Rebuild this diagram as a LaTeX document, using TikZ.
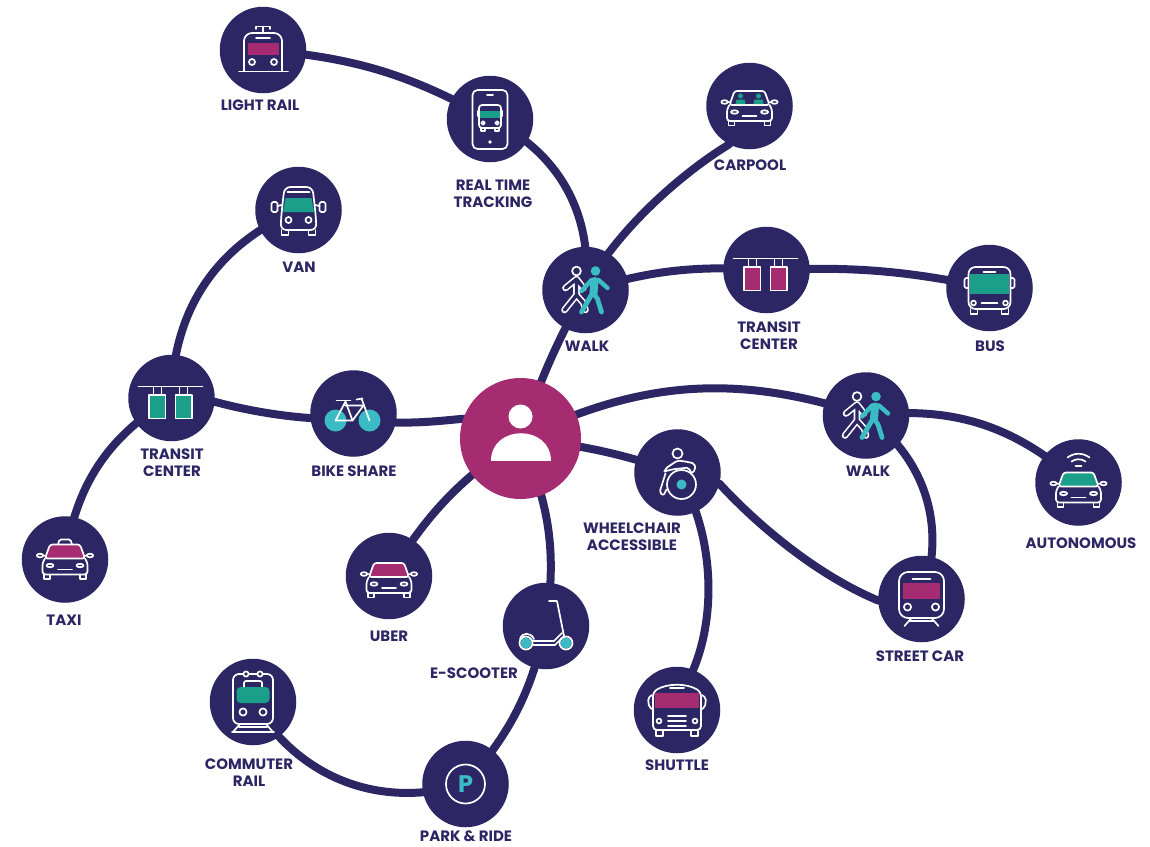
\documentclass[tikz,border=0pt]{standalone}
\usepackage{fontspec}
\setmainfont{Poppins}
\usetikzlibrary{backgrounds}
\definecolor{navy}{HTML}{2C2764}
\definecolor{mag}{HTML}{A62C72}
\definecolor{grn}{HTML}{1B9F8B}
\definecolor{cyn}{HTML}{3BBCC4}
\tikzset{
  hub/.style={circle,fill=navy,minimum size=86.5pt,inner sep=0pt},
  user/.style={circle,fill=mag,minimum size=121pt,inner sep=0pt},
  lab/.style={text=navy,font=\bfseries\fontsize{15}{17}\selectfont,align=center,inner sep=0pt},
  link/.style={draw=navy,line width=8pt,line join=round},
  ln/.style={draw=white,line width=1.7pt,line join=round,line cap=round},
  pics/car/.style={code={
    \draw[ln] (-21,14)--(-21,19.5)--(-15,19.5)--(-15,15);
    \draw[ln] (21,14)--(21,19.5)--(15,19.5)--(15,15);
    \draw[ln] (-25,-4) ellipse[x radius=3.2,y radius=1.8];
    \draw[ln] (25,-4) ellipse[x radius=3.2,y radius=1.8];
    \draw[ln] (-21.8,-4)--(-18,-3.5) (21.8,-4)--(18,-3.5);
    \draw[ln,fill=#1,rounded corners=2.5pt] (-20,-1)--(-15,-15)--(15,-15)--(20,-1)--cycle;
    \draw[ln,rounded corners=3pt] (-20,-1)--(-22.5,3)--(-22.5,15)--(22.5,15)--(22.5,3)--(20,-1);
    \draw[ln] (-15,6) ellipse[x radius=3.6,y radius=1.7];
    \draw[ln] (15,6) ellipse[x radius=3.6,y radius=1.7];
    \draw[ln] (-7,10)--(7,10);
  }},
  pics/transit/.style={code={
    \draw[ln] (-33,-11.5)--(31,-11.5);
    \draw[ln] (-18,-11)--(-18,-3) (-10,-11)--(-10,-3) (8,-11)--(8,-3) (16,-11)--(16,-3);
    \draw[ln,fill=#1] (-22.5,-3) rectangle (-6,20.5);
    \draw[ln,fill=#1] (4,-3) rectangle (20.5,20.5);
  }},
  pics/walkers/.style={code={
    \draw[ln] (-9,-19) circle[radius=4.4];
    \draw[white,line width=6.6pt,line cap=round,line join=round]
      (-20,-2)--(-9,-11)--(-2,-2) (-9,-11)--(-9,5)--(-21,20) (-9,5)--(-2,13)--(0,20);
    \draw[navy,line width=3.4pt,line cap=round,line join=round]
      (-20,-2)--(-9,-11)--(-2,-2) (-9,-11)--(-9,5)--(-21,20) (-9,5)--(-2,13)--(0,20);
    \fill[cyn] (10,-19) circle[radius=4.8];
    \draw[cyn,line width=4.4pt,line cap=round,line join=round]
      (-4,1)--(6,-10)--(13,-10)--(22,-2);
    \draw[cyn,line width=8pt,line cap=round] (9,-9)--(8,3);
    \draw[cyn,line width=4.8pt,line cap=round,line join=round]
      (7,3)--(-4,22) (8,3)--(12,9)--(16,22);
  }}
}
\begin{document}
\begin{tikzpicture}[x=1pt,y=-1pt]
\useasboundingbox (0,0) rectangle (1150,846);
% hubs
\node[hub]  (light)   at (263,50)  {};
\node[hub]  (track)   at (490,119) {};
\node[hub]  (carpool) at (749.5,106) {};
\node[hub]  (walka)   at (585.5,290) {};
\node[hub]  (transa)  at (766.5,270) {};
\node[hub]  (bus)     at (989.5,288) {};
\node[hub]  (van)     at (298.5,210) {};
\node[hub]  (transb)  at (171.5,398) {};
\node[hub]  (bike)    at (353.5,413.5) {};
\node[hub]  (taxi)    at (65,559.5) {};
\node[hub]  (uber)    at (389,576) {};
\node[user] (person)  at (520.5,438.5) {};
\node[hub]  (walkb)   at (866,415.5) {};
\node[hub]  (wheel)   at (677.5,472.5) {};
\node[hub]  (auto)    at (1078.5,482.5) {};
\node[hub]  (street)  at (921.5,599) {};
\node[hub]  (scoot)   at (546,626) {};
\node[hub]  (commute) at (253,702) {};
\node[hub]  (park)    at (465.5,784) {};
\node[hub]  (shuttle) at (677,710) {};
% connectors
\begin{pgfonlayer}{background}
\draw[link] (light.center)  to[bend left=12]  (track.center);
\draw[link] (track.center)  to[bend left=35]  (walka.center);
\draw[link] (carpool.center) -- (carpool.-118) .. controls (695,165) and (645,205) .. (walka.58) -- (walka.center);
\draw[link] (walka.center)  to[bend left=10]  (transa.center);
\draw[link] (transa.center) to[bend left=7]   (bus.center);
\draw[link] (walka.center)  to[bend right=5]  (person.center);
\draw[link] (van.center)    to[bend right=33] (transb.center);
\draw[link] (transb.center) to[bend right=25] (taxi.center);
\draw[link] (transb.center) -- (transb.-5) .. controls (245,410) and (280,416) .. (bike.186) -- (bike.center);
\draw[link] (bike.center) -- (bike.-12) .. controls (420,423) and (440,421) .. (person.161) -- (person.center);
\draw[link] (person.center) to[bend left=22]  (walkb.center);
\draw[link] (walkb.center)  to[bend left=24]  (auto.center);
\draw[link] (walkb.center)  to[bend left=37]  (street.center);
\draw[link] (person.center) to[bend left=6]  (wheel.center);
\draw[link] (wheel.center) -- (wheel.-15) .. controls (750,517) and (810,572) .. (street.182) -- (street.center);
\draw[link] (wheel.center) -- (wheel.-65) .. controls (714,565) and (712,625) .. (shuttle.68) -- (shuttle.center);
\draw[link] (person.center) to[bend right=12] (uber.center);
\draw[link] (person.center) to[bend left=16]  (scoot.center);
\draw[link] (scoot.center)  to[bend left=14]  (park.center);
\draw[link] (park.center)   to[bend left=38]  (commute.center);
\end{pgfonlayer}
% person icon
\fill[white] ([yshift=22pt]person.center) circle[radius=12];
\fill[white] (490.5,461) .. controls (490.5,424) and (550.5,424) .. (550.5,461) -- cycle;
% light rail icon
\begin{scope}[shift={(light.center)}]
  \draw[ln,rounded corners=8pt] (-19,21)--(-19,-17)--(19,-17)--(19,21);
  \draw[ln] (-24,21.5)--(25,21.5);
  \fill[mag] (-15.5,-7.5) rectangle (15.5,5);
  \draw[ln] (-7,-12)--(7,-12);
  \draw[ln] (-11,12) circle[radius=3] (11,12) circle[radius=3];
  \draw[ln] (0,-17)--(0,-23.5) (-7,-21)--(-7,-23.5)--(7,-23.5)--(7,-21);
\end{scope}
% phone icon
\begin{scope}[shift={(track.center)}]
  \draw[ln,rounded corners=5pt] (-17.5,-29) rectangle (17.5,30);
  \draw[ln] (-3,-24)--(3,-24);
  \fill[white] (0,23) circle[radius=1.8];
  \draw[ln,rounded corners=3pt] (-11,9)--(-11,-14)--(11,-14)--(11,9)--cycle;
  \fill[grn] (-10,-8) rectangle (10,-1);
  \draw[ln] (-12.5,-8)--(-12.5,-3) (12.5,-8)--(12.5,-3);
  \draw[ln] (-7,4) circle[radius=1.8] (7,4) circle[radius=1.8];
  \draw[ln] (-9,9)--(-9,12)--(-5,12)--(-5,9) (9,9)--(9,12)--(5,12)--(5,9);
\end{scope}
% cars
\pic at (carpool.center) {car=navy};
\begin{scope}[shift={(carpool.center)}]
  \fill[grn] (-9,-10) circle[radius=2.6] (9,-10) circle[radius=2.6];
  \fill[grn] (-14,-2) -- (-13,-6.5) -- (-5,-6.5) -- (-4,-2) -- cycle;
  \fill[grn] (14,-2) -- (13,-6.5) -- (5,-6.5) -- (4,-2) -- cycle;
\end{scope}
\pic at (taxi.center) {car=mag};
\begin{scope}[shift={(taxi.center)}]
  \draw[ln,rounded corners=1.5pt] (-7,-15)--(-5.5,-20)--(5.5,-20)--(7,-15);
\end{scope}
\pic at ([yshift=-2pt]uber.center) {car=mag};
\pic at ([yshift=-5pt]auto.center) {car=grn};
\begin{scope}[shift={(auto.center)}]
  \draw[ln] (-11,-25) .. controls (-4,-30) and (4,-30) .. (11,-25);
  \draw[ln] (-7,-21) .. controls (-3,-24) and (3,-24) .. (7,-21);
  \draw[ln] (-3,-16.5)--(3,-16.5);
\end{scope}
% transit centres
\pic at (transa.center) {transit=mag};
\pic at (transb.center) {transit=grn};
% walkers
\pic at (walka.center) {walkers};
\pic at (walkb.center) {walkers};
% bus
\begin{scope}[shift={(bus.center)}]
  \draw[ln,rounded corners=7pt] (-21,21)--(-21,-21)--(21,-21)--(21,21)--cycle;
  \fill[grn] (-19.5,-14) rectangle (19.5,6);
  \draw[ln] (-6,-16)--(6,-16);
  \draw[ln,rounded corners=1.5pt] (-21,-10)--(-25,-10)--(-25,0)--(-21,0) (21,-10)--(25,-10)--(25,0)--(21,0);
  \draw[ln] (-16,15) circle[radius=2.4] (16,15) circle[radius=2.4];
  \draw[ln] (-8,15)--(8,15);
  \draw[ln] (-19,21)--(-19,26)--(-12,26)--(-12,21) (19,21)--(19,26)--(12,26)--(12,21);
\end{scope}
% van
\begin{scope}[shift={(van.center)}]
  \draw[ln,rounded corners=6pt] (-18,20)--(-17,3)--(-14,-23)--(14,-23)--(17,3)--(18,20)--cycle;
  \fill[grn] (-13,-12)--(13,-12)--(15.5,2)--(-15.5,2)--cycle;
  \draw[ln] (-11,-18)--(11,-18);
  \draw[ln,rounded corners=1.5pt] (-27,-8) rectangle (-21,2);
  \draw[ln,rounded corners=1.5pt] (21,-8) rectangle (27,2);
  \draw[ln] (-17,-5)--(-21,-4) (17,-5)--(21,-4);
  \draw[ln] (-10,10) circle[radius=3] (10,10) circle[radius=3];
  \draw[ln] (-17,20)--(-17,25)--(-10,25)--(-10,20) (17,20)--(17,25)--(10,25)--(10,20);
\end{scope}
% bike
\begin{scope}[shift={(bike.center)}]
  \fill[cyn] (-18,7) circle[radius=11] (16,7) circle[radius=11];
  \draw[ln] (-8,-12)--(-18,7)--(-1,7)--(-8,-12);
  \draw[ln] (-8.5,-8)--(10,-8)--(-1,7);
  \draw[ln] (8,-15)--(16,7);
  \draw[ln] (-17,-13)--(-3,-13);
  \draw[ln] (3,-14)--(9,-15);
\end{scope}
% wheelchair
\begin{scope}[shift={(wheel.center)}]
  \draw[ln] (0,-19) circle[radius=5];
  \draw[ln] (4,12) circle[radius=14.5];
  \fill[cyn] (4,12) circle[radius=5];
  \draw[ln,rounded corners=2pt] (-13,-1)--(-12,-4)--(0,-12)--(8,-11)--(17,-9)--(18,-3)--(14,1)--(11,-5)--(-6,-3)--(-13,-1);
  \draw[ln,rounded corners=2pt] (-12,1)--(-18,20)--(-14,23)--(-11,17);
\end{scope}
% street car
\begin{scope}[shift={(street.center)}]
  \draw[ln,rounded corners=9pt] (-22.5,-27) rectangle (22.5,19);
  \draw[ln] (-9,-20)--(9,-20);
  \fill[mag] (-18.5,-16) rectangle (18.5,0);
  \draw[ln] (-14,8) circle[radius=3.6] (14,8) circle[radius=3.6];
  \draw[ln] (-10,19)--(-17,27) (10,19)--(17,27) (-12,22)--(12,22);
\end{scope}
% scooter
\begin{scope}[shift={(scoot.center)}]
  \draw[ln] (3,-25)--(11,-25)--(19,15);
  \draw[ln] (-13,15)--(8,15)--(16,7);
  \draw[ln] (-13,19)--(9,19)--(17,11);
  \draw[ln] (-26,13) .. controls (-24,6) and (-15,6) .. (-12,13);
  \fill[cyn] (-20,17) circle[radius=5.5] (20,17) circle[radius=5.5];
  \draw[ln] (-20,17) circle[radius=6.5] (20,17) circle[radius=6.5];
\end{scope}
% commuter rail
\begin{scope}[shift={(commute.center)}]
  \draw[ln,rounded corners=6pt] (-20,-28) rectangle (20,22);
  \draw[ln,fill=navy] (-7,-28) circle[radius=2.6] (7,-28) circle[radius=2.6];
  \draw[ln,rounded corners=2pt] (-9,-15)--(-9,-21)--(9,-21)--(9,-15);
  \fill[grn,rounded corners=4pt] (-16.5,-15) rectangle (16.5,1);
  \draw[ln] (-10,10) circle[radius=3.6] (10,10) circle[radius=3.6];
  \draw[ln] (-13,22)--(-20,30) (13,22)--(20,30) (-21,30)--(21,30) (-14,25)--(14,25);
\end{scope}
% park
\draw[ln] (park.center) circle[radius=19.5];
\node[text=cyn,font=\bfseries\fontsize{24}{24}\selectfont,inner sep=0pt] (pmark) at (park.center) {P};
% shuttle
\begin{scope}[shift={(shuttle.center)}]
  \draw[ln,rounded corners=4pt] (-24,20)--(-24,-18) .. controls (-10,-27) and (10,-27) .. (24,-18)--(24,20)--cycle;
  \fill[mag] (-22,-17) rectangle (22,-2);
  \draw[ln] (-7,-22)--(7,-22);
  \draw[ln,rounded corners=2pt] (-25,-15)--(-29,-12)--(-28,-3)--(-25,-1);
  \draw[ln,rounded corners=2pt] (25,-15)--(29,-12)--(28,-3)--(25,-1);
  \draw[ln] (-18,11) circle[radius=2.4] (18,11) circle[radius=2.4];
  \draw[ln] (-9,6)--(9,6) (-9,11)--(9,11) (-9,16)--(9,16);
  \draw[ln] (-21,20)--(-21,26)--(-14,26)--(-14,20) (21,20)--(21,26)--(14,26)--(14,20);
\end{scope}
% labels
\node[lab] (llight) at (260,105) {LIGHT RAIL};
\node[lab] (ltrack) at (493,193.5) {REAL TIME\\TRACKING};
\node[lab] (lcar) at (750,165) {CARPOOL};
\node[lab] (ltra) at (769,335.5) {TRANSIT\\CENTER};
\node[lab] (lbus) at (990,346) {BUS};
\node[lab] (lvan) at (299,267) {VAN};
\node[lab] (lwalka) at (587,346) {WALK};
\node[lab] (ltrb) at (172,462.5) {TRANSIT\\CENTER};
\node[lab] (lbike) at (354,471) {BIKE SHARE};
\node[lab] (ltaxi) at (64,620) {TAXI};
\node[lab] (luber) at (389,636) {UBER};
\node[lab] (lwheel) at (632,536.5) {WHEELCHAIR\\ACCESSIBLE};
\node[lab] (lscoot) at (474,673) {E-SCOOTER};
\node[lab] (lwalkb) at (868,471) {WALK};
\node[lab] (lauto) at (1081,543) {AUTONOMOUS};
\node[lab] (lstreet) at (920,656) {STREET CAR};
\node[lab] (lshut) at (677,765) {SHUTTLE};
\node[lab] (lcom) at (249,772.5) {COMMUTER\\RAIL};
\node[lab] (lpark) at (466,836) {PARK \& RIDE};
\end{tikzpicture}
\end{document}
